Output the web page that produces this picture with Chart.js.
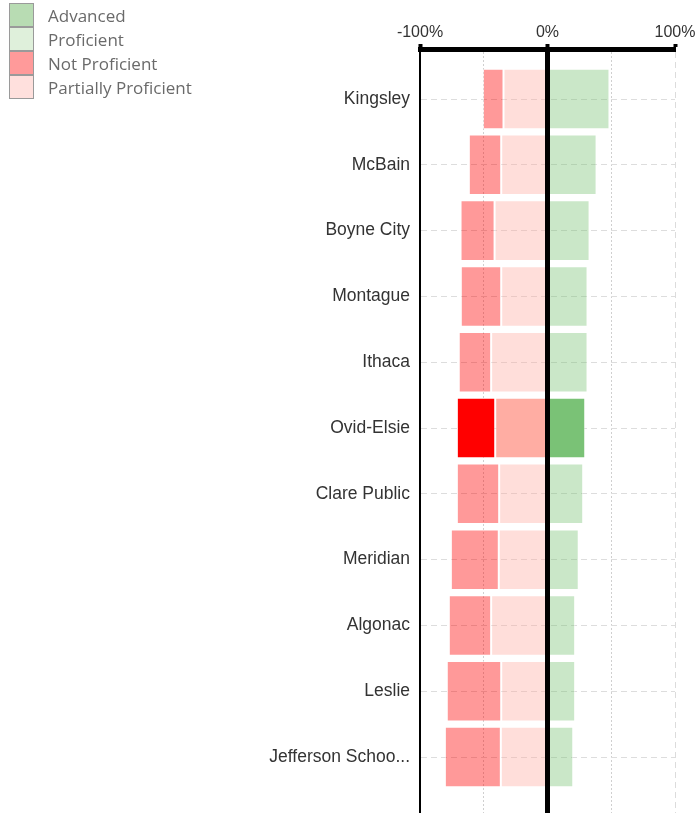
<!DOCTYPE html>
<html>
<head>
<meta charset="utf-8">
<script src="https://cdn.jsdelivr.net/npm/chart.js@4"></script>
<style>
    body { margin: 0; background: #fff; }
    #wrap { position: relative; width: 695px; height: 813px; }
    #legend { position: absolute; left: 9px; top: 3px; font-family: "Open Sans", sans-serif; font-size: 17px; color: #6a6a6a; }
    #legend .item { display: flex; align-items: center; height: 24px; }
    #legend .box { width: 25px; height: 24px; box-sizing: border-box; border: 1px solid #9a9a9a; margin-top: -1px; margin-right: 14px; }
</style>
</head>
<body>
<div id="wrap">
    <canvas id="proficiencyChart" width="695" height="813"></canvas>
    <div id="legend"></div>
</div>
<script>
// ================= DATOS =================
const schools = ["Kingsley", "McBain", "Boyne City", "Montague", "Ithaca", "Ovid-Elsie",
    "Clare Public", "Meridian", "Algonac", "Leslie", "Jefferson Schoo..."];

const advanced = [0, 0, 0, 0, 0, 0, 0, 0, 0, 0, 0];
const proficient = [48.6, 38.5, 33, 31.4, 31.4, 29.6, 28, 24.5, 21.7, 21.7, 20.2];
const partiallyProficient = [-34.5, -36.3, -41.5, -36.3, -44.2, -41, -37.9, -38.2, -44.2, -36.3, -36.6];
const notProficient = [-16.2, -25.4, -26.7, -31.7, -25.4, -30.1, -33.2, -37.6, -33.2, -42.7, -43.9];

const xTicks = [-100, 0, 100];
const highlight = "Ovid-Elsie";

// colores base (la fila resaltada va opaca, las demás al 40%)
const colors = {
    "Advanced": [122, 194, 118],
    "Proficient": [122, 194, 118],
    "Not Proficient": [255, 0, 0],
    "Partially Proficient": [255, 173, 163]
};
const legendColors = {
    "Advanced": "#b8dcb3",
    "Proficient": "#dff0db",
    "Not Proficient": "#ff9a9a",
    "Partially Proficient": "#ffe0dd"
};


// ================= LEYENDA =================
const legend = document.getElementById("legend");
Object.keys(legendColors).forEach(name => {
    const item = document.createElement("div");
    item.className = "item";
    item.innerHTML = `<span class="box" style="background:${legendColors[name]}"></span><span>${name}</span>`;
    legend.appendChild(item);
});


// ================= GRÁFICA =================
function points(values) {
    return values.map((v, i) => ({ x: v, y: i }));
}

function makeDataset(label, values) {
    const c = colors[label];
    return {
        label: label,
        data: points(values),
        backgroundColor: (ctx) => {
            const a = schools[ctx.dataIndex] === highlight ? 1 : 0.4;
            return `rgba(${c[0]},${c[1]},${c[2]},${a})`;
        },
        borderColor: "rgba(255,255,255,0.45)",
        borderWidth: 1,
        borderSkipped: false
    };
}

const zeroLine = {
    id: "zeroLine",
    afterDatasetsDraw(chart) {
        const x = chart.scales.x.getPixelForValue(0);
        const area = chart.chartArea;
        const c = chart.ctx;
        c.save();
        c.strokeStyle = "#000";
        c.lineWidth = 5;
        c.beginPath();
        c.moveTo(x, area.top);
        c.lineTo(x, area.bottom);
        c.stroke();
        c.restore();
    }
};

const ctx = document.getElementById("proficiencyChart");

new Chart(ctx, {
    type: "bar",
    data: {
        datasets: [
            makeDataset("Partially Proficient", partiallyProficient),
            makeDataset("Not Proficient", notProficient),
            makeDataset("Proficient", proficient),
            makeDataset("Advanced", advanced)
        ]
    },
    options: {
        indexAxis: "y",
        responsive: false,
        animation: false,
        layout: { padding: 0 },
        datasets: {
            bar: { barPercentage: 0.92, categoryPercentage: 1 }
        },
        plugins: {
            legend: { display: false },
            tooltip: { enabled: false }
        },
        scales: {
            x: {
                position: "top",
                stacked: true,
                min: -100,
                max: 100,
                afterFit: (scale) => {
                    scale.height = 49;
                    scale.paddingLeft = 0;
                    scale.paddingRight = 20;
                },
                ticks: {
                    stepSize: 50,
                    padding: 2,
                    color: "#333",
                    font: { family: "Liberation Sans", size: 16 },
                    callback: (v) => xTicks.includes(v) ? v + "%" : ""
                },
                grid: {
                    color: (c) => {
                        const v = c.tick && c.tick.value;
                        if (v === -100 || v === 0) return "rgba(0,0,0,0)";
                        return v === 100 ? "#dcdcdc" : "#cfcfcf";
                    },
                    lineWidth: 1,
                    tickColor: (c) => c.tick && xTicks.includes(c.tick.value) ? "#000" : "rgba(0,0,0,0)",
                    tickWidth: 4,
                    tickLength: 5
                },
                border: {
                    display: true,
                    color: "#000",
                    width: 5,
                    dash: (c) => {
                        if (!c.tick) return [];
                        if (c.tick.value === 100) return [6, 4];
                        if (Math.abs(c.tick.value) === 50) return [2, 2];
                        return [];
                    }
                }
            },
            y: {
                type: "linear",
                reverse: true,
                stacked: true,
                offset: false,
                min: -0.76,
                max: 10.85,
                afterFit: (scale) => {
                    scale.width = 420;
                    scale.paddingTop = 0;
                    scale.paddingBottom = 0;
                },
                ticks: {
                    stepSize: 1,
                    includeBounds: false,
                    maxTicksLimit: 30,
                    autoSkip: false,
                    padding: 10,
                    color: "#333",
                    font: { family: "Liberation Sans", size: 17.5 },
                    callback: (v) => Number.isInteger(v) ? schools[v] : ""
                },
                grid: {
                    offset: false,
                    color: "#dddddd",
                    lineWidth: 1,
                    drawTicks: false
                },
                border: {
                    display: true,
                    color: "#000",
                    width: 2,
                    dash: [6, 4]
                }
            }
        }
    },
    plugins: [zeroLine]
});
</script>
</body>
</html>
